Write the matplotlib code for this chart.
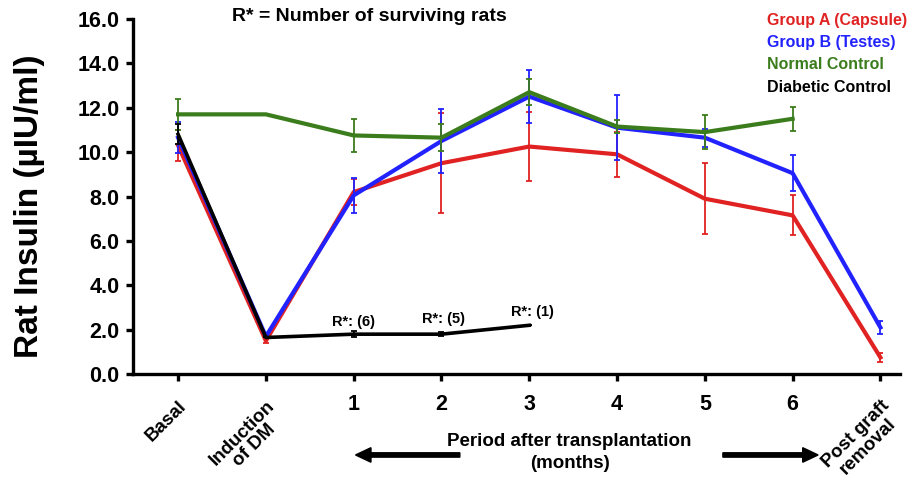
import numpy as np
import matplotlib
matplotlib.use("Agg")
import matplotlib.pyplot as plt

plt.rcParams['font.family'] = ['Liberation Sans', 'DejaVu Sans']
plt.rcParams['font.weight'] = 'bold'

##################################
# Data (insulin, uIU/ml; mean and error)
periods = ["Basal", "Induction\nof DM", "1", "2", "3", "4", "5", "6", "Post graft\nremoval"]
group_a = [10.3, 1.5, 8.2, 9.5, 10.25, 9.9, 7.9, 7.15, 0.75]
group_a_err = [0.7, 0.1, 0.6, 2.25, 1.55, 1.0, 1.6, 0.9, 0.2]
group_b = [10.65, 1.7, 8.05, 10.5, 12.5, 11.1, 10.65, 9.05, 2.1]
group_b_err = [0.7, 0.05, 0.8, 1.45, 1.2, 1.45, 0.4, 0.8, 0.3]
normal = [11.7, 11.7, 10.75, 10.65, 12.7, 11.15, 10.9, 11.5]
normal_err = [0.7, 0.0, 0.75, 0.6, 0.6, 0.3, 0.75, 0.55]
diabetic = [10.8, 1.65, 1.8, 1.8, 2.2]
diabetic_err = [0.45, 0.0, 0.15, 0.1, 0.0]
survivors = [6, 5, 1]        # R* above months 1, 2, 3
survivor_y = [2.35, 2.5, 2.8]

red, blue, green = "#e02222", "#2222ff", "#3b7d1c"

##################################
# Figure
fig = plt.figure(figsize=(9.07, 4.84), dpi=100)
ax = fig.add_axes([0.147, 0.227, 0.845, 0.734])

def series(y, err, color, lw, z):
    x = np.arange(len(y))
    ax.errorbar(x, y, yerr=err, color=color, lw=lw, elinewidth=1.3,
                capsize=2.2, capthick=1.3, zorder=z)

series(group_a, group_a_err, red, 3.0, 2)
series(group_b, group_b_err, blue, 3.0, 3)
series(normal, normal_err, green, 3.0, 4)
series(diabetic, diabetic_err, "black", 2.6, 5)

for i, (n, y) in enumerate(zip(survivors, survivor_y)):
    ax.text(2 + i + 0.02 * i, y, f"R*: ({n})", ha="center", va="center", fontsize=10.5)

ax.set_xlim(-0.51, 8.22)
ax.set_ylim(0, 16)
ax.set_yticks(np.arange(0, 16.1, 2))
ax.set_yticklabels([f"{v:.1f}" for v in np.arange(0, 16.1, 2)], fontsize=15.5)
ax.set_xticks(np.arange(len(periods)))
ax.set_xticklabels([])

for s in ["top", "right"]:
    ax.spines[s].set_visible(False)
for s in ["left", "bottom"]:
    ax.spines[s].set_linewidth(2.4)
ax.tick_params(width=2.4, length=5, direction="out", pad=5)

# x tick labels: rotated for the end points, upright for months
for i, lab in enumerate(periods):
    if "\n" in lab:
        ax.text(i, -1.05, lab, rotation=45, ha="right", va="top",
                rotation_mode="anchor", fontsize=13.5, linespacing=1.0,
                multialignment="center", clip_on=False)
    elif lab == "Basal":
        ax.text(i, -1.05, lab, rotation=45, ha="right", va="top",
                rotation_mode="anchor", fontsize=13.5, clip_on=False)
    else:
        ax.text(i, -0.9, lab, ha="center", va="top", fontsize=15.5, clip_on=False)

fig.text(0.628, 0.065, "Period after transplantation\n(months)", ha="center",
         va="center", fontsize=13.5, linespacing=1.45)
fig.patches.append(matplotlib.patches.FancyArrow(0.507, 0.060, -0.115, 0, width=0.009,
                   head_width=0.03, head_length=0.017, color="black",
                   transform=fig.transFigure, length_includes_head=True))
fig.patches.append(matplotlib.patches.FancyArrow(0.797, 0.060, 0.105, 0, width=0.009,
                   head_width=0.03, head_length=0.017, color="black",
                   transform=fig.transFigure, length_includes_head=True))

fig.text(0.033, 0.574, "Rat Insulin (\u00b5IU/ml)", rotation=90, ha="center",
         va="center", fontsize=24)
fig.text(0.256, 0.966, "R* = Number of surviving rats", ha="left", va="center",
         fontsize=14)

legend = [("Group A (Capsule)", red), ("Group B (Testes)", blue),
          ("Normal Control", green), ("Diabetic Control", "black")]
for k, (lab, c) in enumerate(legend):
    fig.text(0.846, 0.958 - k * 0.046, lab, color=c, ha="left", va="center",
             fontsize=11.5)

fig.savefig("out.png", dpi=100)
